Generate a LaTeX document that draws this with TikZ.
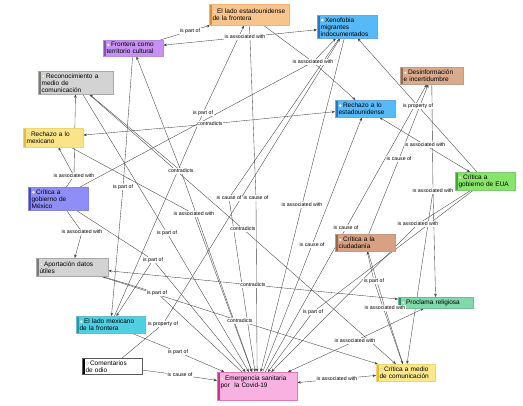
\documentclass[tikz,border=0pt]{standalone}
\usepackage{fontspec}
\setmainfont{Liberation Sans}
\usetikzlibrary{arrows.meta,backgrounds}

\newcommand{\cfont}{\fontsize{6.5}{7}\selectfont}
\newcommand{\lfont}{\fontsize{5.2}{6}\selectfont}
\newcommand{\ico}{\tikz[baseline=-0.55ex]\fill[white!80!yellow,draw=white!70!black,line width=0.2pt] (0,0) circle (1.6pt);\hspace{1pt}}

% concept colours: F = fill, S = stripe
\definecolor{eleF}{HTML}{F8C48E}\definecolor{eleS}{HTML}{E8892E}
\definecolor{xenF}{HTML}{56B9F8}\definecolor{xenS}{HTML}{1F77D0}
\definecolor{froF}{HTML}{C691F2}\definecolor{froS}{HTML}{8E4CC8}
\definecolor{grayF}{HTML}{D3D3D3}\definecolor{grayS}{HTML}{7A7A7A}
\definecolor{desF}{HTML}{D9AA8C}\definecolor{desS}{HTML}{9A6A50}
\definecolor{remF}{HTML}{FBE38A}\definecolor{remS}{HTML}{E5BE2A}
\definecolor{cgmF}{HTML}{8E8EF6}\definecolor{cgmS}{HTML}{4545C8}
\definecolor{cgeF}{HTML}{88E56C}\definecolor{cgeS}{HTML}{3AAE25}
\definecolor{cciF}{HTML}{D8A184}\definecolor{cciS}{HTML}{A06442}
\definecolor{proF}{HTML}{80D9A8}\definecolor{proS}{HTML}{1E9A5E}
\definecolor{elmF}{HTML}{4FCFE2}\definecolor{elmS}{HTML}{1B9CB2}
\definecolor{comF}{HTML}{FFFFFF}\definecolor{comS}{HTML}{000000}
\definecolor{emeF}{HTML}{F7B2E1}\definecolor{emeS}{HTML}{D2308F}
\definecolor{cmcF}{HTML}{FCE88C}\definecolor{cmcS}{HTML}{E8C020}

\tikzset{
  cmap/.style={rectangle, draw=#1S!65, fill=#1F, line width=0.4pt,
    inner xsep=3.4pt, inner ysep=1pt, align=left, font=\cfont, anchor=north west,
    path picture={\fill[#1S] (path picture bounding box.south west)
      rectangle ([xshift=2.4pt]path picture bounding box.north west);}},
  lbl/.style={font=\lfont, fill=white, inner sep=0.6pt},
  ln/.style={draw=black!75, line width=0.35pt},
  arr/.style={ln, -{Stealth[length=3.4pt,width=2.6pt]}}
}

\begin{document}
\begin{tikzpicture}[x=1pt,y=-1pt]
  \useasboundingbox (0,0) rectangle (523,405);

  % concepts
  \node[cmap=ele, text width=73pt, minimum height=21pt] (ELE) at (209,4) {\ico\mbox{El lado estadounidense}\\de la frontera};
  \node[cmap=xen, text width=53.2pt, minimum height=23pt] (XEN) at (317,15) {\ico Xenofobia\\migrantes\\indocumentados};
  \node[cmap=fro, text width=53.2pt, minimum height=16pt] (FRO) at (103,40) {\ico Frontera como\\territorio cultural};
  \node[cmap=gray, text width=68.2pt, minimum height=23pt] (REC) at (38,71) {\ico Reconocimiento a\\medio de\\comunicación};
  \node[cmap=des, text width=56.2pt, minimum height=17pt] (DES) at (400,67) {\ico Desinformación\\e incertidumbre};
  \node[cmap=xen, text width=53.2pt, minimum height=17pt] (RES) at (335,100) {\ico Rechazo a lo\\estadounidense};
  \node[cmap=rem, text width=53.2pt, minimum height=19pt] (REM) at (23,128) {\ico Rechazo a lo\\mexicano};
  \node[cmap=cgm, text width=53.2pt, minimum height=23pt] (CGM) at (28,187) {\ico Crítica a\\gobierno de\\México};
  \node[cmap=cge, text width=53.2pt, minimum height=18pt] (CGE) at (455,172) {\ico Crítica a\\gobierno de EUA};
  \node[cmap=cci, text width=53.2pt, minimum height=17pt] (CCI) at (335,234) {\ico Crítica a la\\ciudadanía};
  \node[cmap=gray, text width=65.2pt, minimum height=18pt] (APO) at (36,258) {\ico Aportación datos\\útiles};
  \node[cmap=pro, text width=68.2pt, minimum height=11pt] (PRO) at (398,297) {\ico Proclama religiosa};
  \node[cmap=elm, text width=62.2pt, minimum height=17pt] (ELM) at (76,316) {\ico El lado mexicano\\de la frontera};
  \node[cmap=com, text width=53.2pt, minimum height=16pt] (COM) at (82,358) {\ico Comentarios\\de odio};
  \node[cmap=eme, text width=73.2pt, minimum height=28pt] (EME) at (217,372) {\ico Emergencia sanitaria\\por\ \ la Covid-19\\\strut};
  \node[cmap=cmc, text width=52.2pt, minimum height=17pt] (CMC) at (376,364) {\ico Crítica a medio\\de comunicación};

  % linking phrases
  \node[lbl] (pA) at (190,31) {is part of};
  \node[lbl] (aB) at (245,37) {is associated with};
  \node[lbl] (aC) at (313,62) {is associated with};
  \node[lbl] (pD) at (203,113) {is part of};
  \node[lbl] (cE) at (210,124) {contradicts};
  \node[lbl] (prF) at (418,106) {is property of};
  \node[lbl] (aJ) at (425,145) {is associated with};
  \node[lbl] (kK) at (399,159) {is cause of};
  \node[lbl] (cI) at (181,171) {contradicts};
  \node[lbl] (aG) at (74,176) {is associated with};
  \node[lbl] (pH) at (123,187) {is part of};
  \node[lbl] (aT) at (433,191) {is associated with};
  \node[lbl] (kL) at (229,198) {is cause of};
  \node[lbl] (kM) at (256,198) {is cause of};
  \node[lbl] (aO) at (302,205) {is associated with};
  \node[lbl] (aN) at (194,214) {is associated with};
  \node[lbl] (aV) at (418,224) {is associated with};
  \node[lbl] (kQ) at (346,228) {is cause of};
  \node[lbl] (cP) at (243,229) {contradicts};
  \node[lbl] (aR) at (82,232) {is associated with};
  \node[lbl] (pS) at (167,233) {is part of};
  \node[lbl] (kU) at (312,245) {is cause of};
  \node[lbl] (pW) at (153,260) {is part of};
  \node[lbl] (pY) at (374,281) {is part of};
  \node[lbl] (cX) at (253,285) {contradicts};
  \node[lbl] (pZ) at (157,293) {is part of};
  \node[lbl] (aAA) at (385,308) {is associated with};
  \node[lbl] (pAB) at (313,312) {is part of};
  \node[lbl] (cAC) at (240,321) {contradicts};
  \node[lbl] (prAD) at (163,324) {is property of};
  \node[lbl] (aAE) at (355,341) {is associated with};
  \node[lbl] (pAF) at (178,352) {is part of};
  \node[lbl] (kAG) at (180,375) {is cause of};
  \node[lbl] (aAH) at (337,379) {is associated with};

  \begin{pgfonlayer}{background}
    \fill[white] (0,0) rectangle (523,405);
    % concept to linking phrase
    \foreach \a/\b in {FRO/pA, CGM/aC, ELE/aC, ELM/pD, CGE/prF, CGM/aG, FRO/pH, CCI/kK,
        XEN/kL, ELE/kM, REM/aN, XEN/aO, REC/cP, EME/kQ, CGM/aR, REC/pS, DES/aT,
        EME/kU, CGE/aV, CGM/pW, CMC/pY, EME/pZ, CCI/aAA, CGE/pAB, APO/cAC,
        COM/prAD, ELM/pAF, COM/kAG}
      \draw[ln] (\a) -- (\b);
    % linking phrase to concept
    \foreach \a/\b in {pA/ELE, aB/FRO, aB/XEN, aC/XEN, aC/RES, pD/ELE, cE/REM, cE/RES,
        prF/XEN, aJ/RES, aJ/CGE, aG/REC, aG/REM, pH/ELM, cI/FRO, cI/REC, cI/EME,
        kK/DES, kL/EME, kM/EME, aN/EME, aO/EME, cP/CMC, kQ/DES, aR/APO, pS/EME,
        aT/CMC, aT/PRO, kU/RES, aV/EME, pW/EME, pW/ELM, cX/APO, cX/PRO, pY/CCI,
        pZ/APO, aAA/CMC, pAB/EME, cAC/CMC, prAD/XEN, aAE/EME, aAE/PRO, pAF/EME,
        kAG/EME, aAH/EME, aAH/CMC}
      \draw[arr] (\a) -- (\b);
  \end{pgfonlayer}
\end{tikzpicture}
\end{document}
